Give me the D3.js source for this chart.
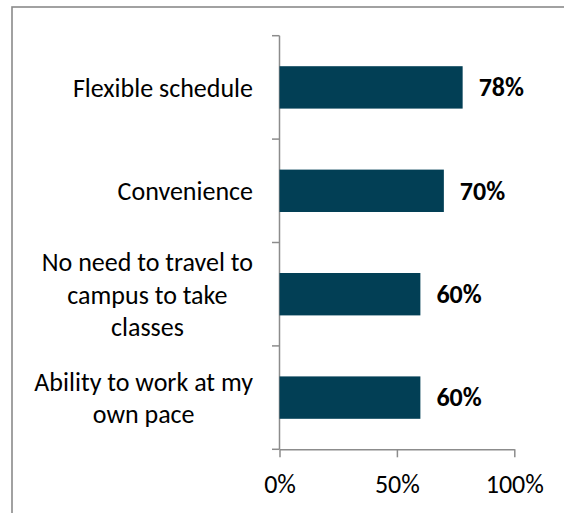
<!DOCTYPE html>
<html>
<head>
<meta charset="utf-8">
<script src="https://cdn.jsdelivr.net/npm/d3@7"></script>
<style>
  body { margin: 0; background: #fff; }
  text { font-family: Carlito, Calibri, Lato, sans-serif; fill: #000; }
</style>
</head>
<body>
<div id="chart"></div>
<script>
// data
const categories = [
  ["Flexible schedule"],
  ["Convenience"],
  ["No need to travel to", "campus to take", "classes"],
  ["Ability to work at my", "own pace"]
];
const values = [78, 70, 60, 60];
const xTicks = [0, 50, 100];

const W = 564, H = 513;
const fontSize = 26, lineH = 32.5;
const barColor = "#023f55", axisColor = "#8c8c8c";

let svg = d3.select("#chart").append("svg")
  .attr("width", W).attr("height", H);

// outer frame (only top and left edges fall in view)
svg.append("rect")
  .attr("x", 12).attr("y", 7)
  .attr("width", 700).attr("height", 700)
  .attr("fill", "none")
  .attr("stroke", "#8a8a8a")
  .attr("stroke-width", 1.6);

let keys = categories.map((c, i) => "c" + i);

let x = d3.scaleLinear().domain([0, 100]).range([279.5, 514.3]);
let y = d3.scaleBand().domain(keys).range([35.7, 449.3])
  .paddingInner(0.59).paddingOuter(0.295);

// y axis line and category boundary ticks
let step = y.step();
let y0 = y.range()[0];
svg.append("line")
  .attr("x1", x(0)).attr("x2", x(0))
  .attr("y1", y0).attr("y2", y.range()[1])
  .attr("stroke", axisColor).attr("stroke-width", 1.5);
svg.selectAll(".ytick")
  .data(d3.range(keys.length + 1))
  .enter().append("line")
  .attr("x1", x(0) - 7.5).attr("x2", x(0))
  .attr("y1", d => y0 + d * step).attr("y2", d => y0 + d * step)
  .attr("stroke", axisColor).attr("stroke-width", 1.5);

// x axis
let xAxis = svg.append("g")
  .attr("transform", "translate(0," + y.range()[1] + ")")
  .call(d3.axisBottom(x).tickValues(xTicks).tickFormat(d => d + "%")
    .tickSize(8).tickSizeOuter(0).tickPadding(17));
xAxis.select(".domain").attr("stroke", axisColor).attr("stroke-width", 1.5);
xAxis.selectAll(".tick line").attr("stroke", axisColor).attr("stroke-width", 1.5);
xAxis.selectAll(".tick text")
  .attr("font-size", fontSize)
  .style("font-family", "Carlito, Calibri, Lato, sans-serif")
  .attr("fill", "#000");

// bars
svg.selectAll(".bar")
  .data(values)
  .enter().append("rect")
  .attr("x", x(0))
  .attr("y", (d, i) => y(keys[i]))
  .attr("width", d => x(d) - x(0))
  .attr("height", y.bandwidth())
  .attr("fill", barColor);

// value labels
svg.selectAll(".val")
  .data(values)
  .enter().append("text")
  .attr("x", d => x(d) + 16)
  .attr("y", (d, i) => y(keys[i]) + y.bandwidth() / 2 + 8.8)
  .attr("font-size", fontSize)
  .attr("font-weight", "bold")
  .text(d => d + "%");

// category labels: block right aligned, lines centred within block
let labelRight = 253;
categories.forEach(function(lines, i) {
  let cy = y(keys[i]) + y.bandwidth() / 2;
  let g = svg.append("g");
  let texts = lines.map(function(line, j) {
    return g.append("text")
      .attr("y", cy + 9.3 + (j - (lines.length - 1) / 2) * lineH)
      .attr("font-size", fontSize)
      .attr("text-anchor", "middle")
      .text(line);
  });
  let maxW = d3.max(texts, t => t.node().getComputedTextLength());
  texts.forEach(t => t.attr("x", labelRight - maxW / 2));
});
</script>
</body>
</html>
